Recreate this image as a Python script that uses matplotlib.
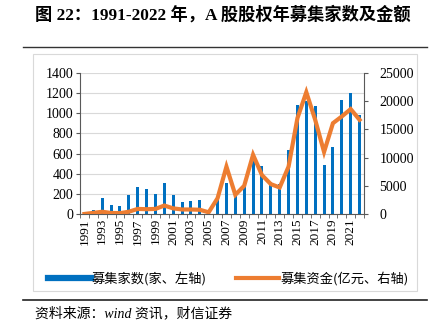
import matplotlib
matplotlib.use('Agg')
import matplotlib.pyplot as plt
from matplotlib.lines import Line2D
from matplotlib.patches import Rectangle
import numpy as np

# data
years = list(range(1991, 2023))
ipo_count = [10, 40, 160, 89, 79, 188, 270, 248, 198, 307, 188, 115, 128, 139, 15, 150,
             312, 189, 272, 537, 478, 318, 299, 637, 1078, 1118, 1068, 488, 670, 1128, 1201, 985]
raised_amount = [5, 200, 400, 180, 150, 400, 900, 850, 900, 1500, 1000, 800, 800, 750, 300, 2800,
                 8400, 3400, 5000, 10500, 6900, 5300, 4700, 8400, 17000, 21600, 16700, 11000,
                 16100, 17300, 18600, 16700]
left_ticks = list(range(0, 1401, 200))
right_ticks = list(range(0, 25001, 5000))

BLUE = '#0070C0'
ORANGE = '#ED7D31'
SERIF_CJK = ['Liberation Serif', 'Noto Sans CJK SC']
SANS_CJK = ['Noto Sans CJK SC', 'DejaVu Sans']

W, H = 437, 324
fig = plt.figure(figsize=(W / 100, H / 100), dpi=100)

def fx(px):
    return px / W

def fy(py):
    return 1 - py / H

# title and rules
fig.text(fx(35), fy(15), '图 22：1991-2022 年，A 股股权年募集家数及金额',
         family=SERIF_CJK, fontweight='bold', fontsize=12.4, va='center', ha='left')
fig.add_artist(Line2D([fx(23), fx(427)], [fy(47), fy(47)], color='#333333', lw=1.0))
fig.add_artist(Rectangle((fx(33), fy(291)), fx(417) - fx(33), fy(54) - fy(291),
                         fill=False, edgecolor='#D9D9D9', lw=0.8))
fig.add_artist(Line2D([fx(23), fx(427)], [fy(300), fy(300)], color='#222222', lw=1.2))
fig.text(fx(35), fy(313), '资料来源：wind 资讯，财信证券', family=SERIF_CJK,
         style='italic', fontsize=10, va='center', ha='left')

# main axes
ax = fig.add_axes([fx(80), fy(214), fx(364) - fx(80), fy(73) - fy(214)])
x = np.arange(len(years))
ax.bar(x, ipo_count, width=0.33, color=BLUE, zorder=2)
ax.set_xlim(-0.5, len(years) - 0.5)
ax.set_ylim(0, 1400)
ax.set_yticks(left_ticks)
ax.yaxis.grid(True, color='#D9D9D9', lw=0.8, zorder=0)
ax.set_axisbelow(True)

ax.set_xticks(x[::2])
ax.set_xticklabels([str(y) for y in years[::2]], rotation=90, family='Liberation Serif', fontsize=9.5)
ax.set_xticks(np.arange(-0.5, len(years), 1), minor=True)
ax.tick_params(axis='x', which='major', length=0, pad=3)
ax.tick_params(axis='x', which='minor', length=3, color='#595959', direction='out')
ax.tick_params(axis='y', length=3, color='#595959', pad=2)
for lbl in ax.get_yticklabels():
    lbl.set_family('Liberation Serif')
    lbl.set_fontsize(10)
for side in ['top', 'right']:
    ax.spines[side].set_visible(False)
ax.spines['left'].set_color('#595959')
ax.spines['bottom'].set_color('#595959')

ax2 = ax.twinx()
ax2.plot(x, raised_amount, color=ORANGE, lw=3, zorder=3, solid_joinstyle='miter')
ax2.set_ylim(0, 25000)
ax2.set_yticks(right_ticks)
ax2.tick_params(axis='y', length=3, color='#595959', pad=8)
for lbl in ax2.get_yticklabels():
    lbl.set_family('Liberation Serif')
    lbl.set_fontsize(10)
for side in ['top', 'left', 'bottom']:
    ax2.spines[side].set_visible(False)
ax2.spines['right'].set_color('#595959')

# legend
handles = [Line2D([], [], color=BLUE, lw=4.5), Line2D([], [], color=ORANGE, lw=3)]
labels = ['募集家数(家、左轴)', '募集资金(亿元、右轴)']
fig.legend(handles, labels, loc='center', bbox_to_anchor=(fx(228), fy(279)), ncol=2,
           frameon=False, prop={'family': SANS_CJK, 'size': 9.5}, handlelength=3.3,
           handletextpad=0.05, columnspacing=2.2)

fig.savefig('out.png', dpi=100)
